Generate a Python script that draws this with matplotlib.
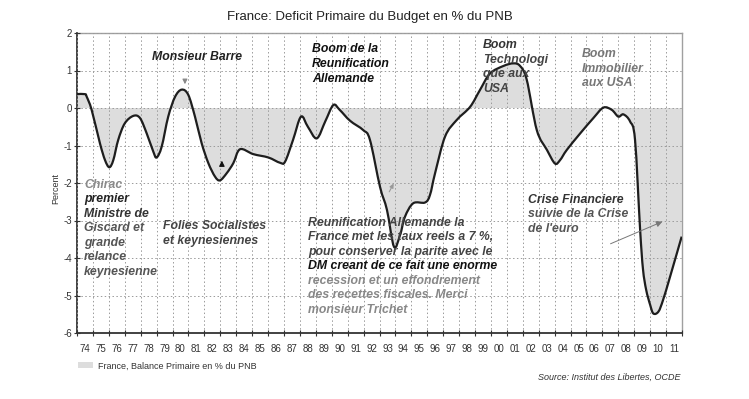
import matplotlib
matplotlib.use('Agg')
from matplotlib import pyplot as plt
from matplotlib.path import Path
from matplotlib.patches import PathPatch, Patch
from matplotlib.ticker import FixedLocator, NullFormatter


plt.rcParams['font.family'] = ['Liberation Sans', 'DejaVu Sans']

# primary balance, % of GNP (year, value)
years = [1974.0, 1974.5, 1974.61, 1974.92, 1975.44, 1975.76, 1976.03, 1976.28, 1976.59, 1977.0,
         1977.54, 1977.96, 1978.38, 1978.79, 1979.0, 1979.32, 1979.73, 1980.16, 1980.58, 1980.99,
         1981.41, 1981.83, 1982.25, 1982.67, 1982.98, 1983.4, 1983.82, 1984.24, 1985.07, 1986.02,
         1986.75, 1987.07, 1987.57, 1988.07, 1988.5, 1989.06, 1989.6, 1990.1, 1990.5, 1991.15,
         1991.98, 1992.4, 1993.03, 1993.47, 1993.91, 1994.29, 1994.6, 1995.12, 1995.86, 1996.17,
         1996.49, 1997.12, 1997.85, 1998.69, 1999.31, 1999.94, 2000.78, 2001.41, 2001.83, 2002.25,
         2002.88, 2003.52, 2004.02, 2004.34, 2004.76, 2005.6, 2006.43, 2007.06, 2007.59, 2008.0,
         2008.32, 2008.74, 2009.05, 2009.37, 2009.55, 2009.75, 2010.0, 2010.2, 2010.52, 2010.81,
         2011.25, 2011.98]
balance = [0.37, 0.37, 0.30, -0.05, -0.94, -1.39, -1.58, -1.39, -0.85, -0.41,
           -0.21, -0.27, -0.68, -1.16, -1.32, -1.03, -0.23, 0.30, 0.49, 0.35,
           -0.23, -0.94, -1.47, -1.83, -1.93, -1.74, -1.47, -1.10, -1.23, -1.32,
           -1.46, -1.43, -0.85, -0.23, -0.50, -0.81, -0.35, 0.08, -0.05, -0.34,
           -0.59, -0.85, -2.10, -2.72, -3.70, -3.39, -2.90, -2.54, -2.52, -2.32,
           -1.74, -0.76, -0.32, 0.03, 0.48, 0.92, 1.12, 1.19, 1.12, 0.75,
           -0.59, -1.12, -1.48, -1.39, -1.12, -0.68, -0.27, 0.01, -0.05, -0.23,
           -0.17, -0.36, -0.85, -3.25, -4.30, -4.85, -5.25, -5.48, -5.43, -5.12,
           -4.50, -3.43]

year_labels = ['%02d' % (y % 100) for y in range(1974, 2012)]
y_ticks = [-6, -5, -4, -3, -2, -1, 0, 1, 2]


def smooth_path(xs, ys):
    # smoothed line like the spreadsheet one: cubic bezier through every point
    n = len(xs)
    verts = [(xs[0], ys[0])]
    codes = [Path.MOVETO]
    for i in range(n - 1):
        x0, y0 = xs[max(i - 1, 0)], ys[max(i - 1, 0)]
        x1, y1 = xs[i], ys[i]
        x2, y2 = xs[i + 1], ys[i + 1]
        x3, y3 = xs[min(i + 2, n - 1)], ys[min(i + 2, n - 1)]
        c1 = (min(max(x1 + (x2 - x0) / 6, x1), x2), y1 + (y2 - y0) / 6)
        c2 = (min(max(x2 - (x3 - x1) / 6, x1), x2), y2 - (y3 - y1) / 6)
        verts += [c1, c2, (x2, y2)]
        codes += [Path.CURVE4] * 3
    return verts, codes


fig = plt.figure(figsize=(7.49, 3.99), dpi=100)
ax = fig.add_axes([77 / 749, 1 - 333 / 399, 605 / 749, 300 / 399])

verts, codes = smooth_path(years, balance)
area = verts + [(years[-1], 0), (years[0], 0), (years[0], balance[0])]
area_codes = codes + [Path.LINETO, Path.LINETO, Path.CLOSEPOLY]
ax.add_patch(PathPatch(Path(area, area_codes), facecolor='#dddddd', lw=0, zorder=1))
ax.add_patch(PathPatch(Path(verts, codes), facecolor='none', edgecolor='#1e1e1e',
                       lw=1.6, joinstyle='round', zorder=3))

ax.set_xlim(1974, 2012)
ax.set_ylim(-6, 2)

ax.xaxis.set_major_locator(FixedLocator(list(range(1974, 2013))))
ax.xaxis.set_major_formatter(NullFormatter())
ax.xaxis.set_minor_locator(FixedLocator([y + 0.5 for y in range(1974, 2012)]))
ax.set_xticklabels(year_labels, minor=True)
ax.tick_params(axis='x', which='major', direction='inout', length=5, width=0.8, color='#333')
ax.tick_params(axis='x', which='minor', length=0, labelsize=7, labelcolor='#333', pad=8)
ax.set_yticks(y_ticks)
ax.set_yticklabels([str(v) for v in y_ticks])
ax.tick_params(axis='y', direction='inout', length=5, width=0.8, labelsize=7, labelcolor='#333',
               color='#333', pad=1)

ax.grid(True, which='major', linestyle=(0, (1.5, 2.5)), color='#9a9a9a', lw=0.7, zorder=2)
ax.set_axisbelow(False)
for s in ['top', 'right']:
    ax.spines[s].set_color('#a0a0a0')
    ax.spines[s].set_linewidth(1.0)
for s in ['left', 'bottom']:
    ax.spines[s].set_color('#333')
    ax.spines[s].set_linewidth(1.3)

step = 14.5 / 37.5  # one text line in data units
bi = dict(fontsize=8.8, fontweight='bold', style='italic', va='center', ha='left', zorder=4)


def lines(x, y, rows):
    for i, (txt, col) in enumerate(rows):
        ax.text(x, y - i * step, txt, color=col, **bi)


lines(1978.71, 1.36, [('Monsieur Barre', '#222')])
lines(1988.76, 1.56, [('Boom de la', '#111'), ('Reunification', '#111'), ('Allemande', '#111')])
lines(1999.5, 1.68, [('Boom', '#333'), ('Technologi', '#444'), ('que aux', '#444'), ('USA', '#444')])
lines(2005.72, 1.44, [('Boom', '#777'), ('Immobilier', '#777'), ('aux USA', '#777')])
lines(1974.44, -2.05, [('Chirac', '#8a8a8a'), ('premier', '#222'), ('Ministre de', '#333'),
                       ('Giscard et', '#555'), ('grande', '#555'), ('relance', '#555'),
                       ('keynesienne', '#555')])
lines(1979.4, -3.15, [('Folies Socialistes', '#444'), ('et keynesiennes', '#444')])
lines(1988.5, -3.06, [('Reunification Allemande la', '#444'),
                      ('France met les taux reels a 7 %,', '#444'),
                      ('pour conserver la parite avec le', '#444'),
                      ('DM creant de ce fait une enorme', '#111'),
                      ('recession et un effondrement', '#888'),
                      ('des recettes fiscales. Merci', '#888'),
                      ('monsieur Trichet', '#888')])
lines(2002.3, -2.45, [('Crise Financiere', '#333'), ('suivie de la Crise', '#555'), ("de l'euro", '#555')])

ax.annotate('', xy=(1980.78, 0.56), xytext=(1980.78, 0.8),
            arrowprops=dict(arrowstyle='-|>', color='#888', lw=0.8, mutation_scale=7))
ax.annotate('', xy=(1983.1, -1.33), xytext=(1983.1, -1.58),
            arrowprops=dict(arrowstyle='-|>', color='#111', lw=0.8, mutation_scale=8))
ax.annotate('', xy=(1993.97, -1.95), xytext=(1993.53, -2.3),
            arrowprops=dict(arrowstyle='-|>', color='#999', lw=0.8, mutation_scale=6))
ax.annotate('', xy=(2010.93, -3.0), xytext=(2007.35, -3.65),
            arrowprops=dict(arrowstyle='-|>', color='#777', lw=0.7, mutation_scale=9))

fig.text(370 / 749, 1 - 17 / 399, 'France: Deficit Primaire du Budget en % du PNB',
         ha='center', va='center', fontsize=9.5, color='#222')
fig.text(56 / 749, 1 - 188 / 399, 'Percent', rotation=90, ha='center', va='center',
         fontsize=6.5, color='#333')
fig.legend([Patch(facecolor='#dddddd')], ['France, Balance Primaire en % du PNB'],
           loc='center left', bbox_to_anchor=(70 / 749, 1 - 366 / 399), frameon=False,
           fontsize=6.5, handlelength=1.6, handleheight=0.6, handletextpad=0.6, labelcolor='#333')
fig.text(680 / 749, 1 - 377 / 399, 'Source: Institut des Libertes, OCDE', ha='right',
         va='center', fontsize=6.5, style='italic', color='#333')

fig.savefig('out.png', dpi=100)
